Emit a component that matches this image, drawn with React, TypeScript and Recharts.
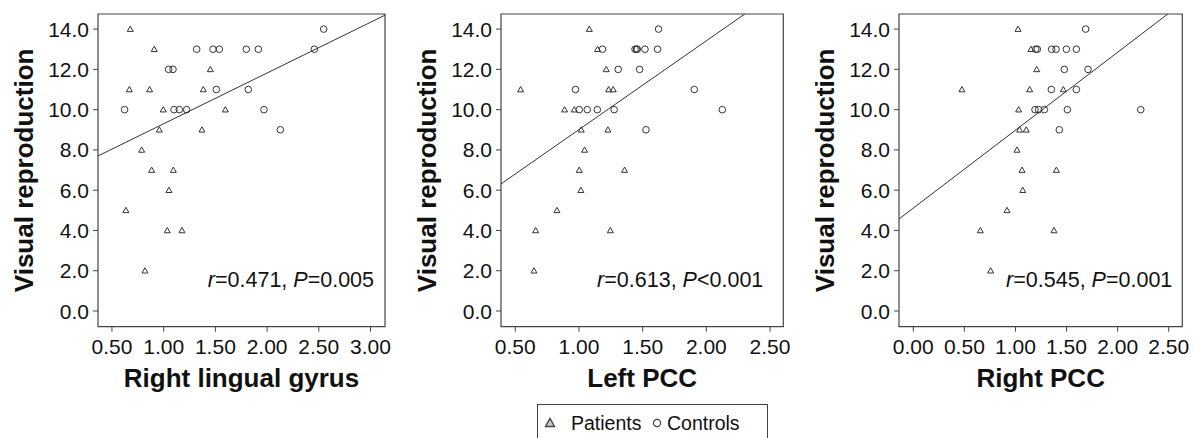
import React from 'react';
import { ScatterChart, Scatter, XAxis, YAxis, ReferenceArea, ReferenceLine } from 'recharts';

const FONT = '"Liberation Sans", Arial, sans-serif';

// Y axis (shared)
const yTicks = [0, 2, 4, 6, 8, 10, 12, 14];
const yDomain = [-0.78, 14.75];

// Panel 1: Right lingual gyrus
const rlgXTicks = [0.5, 1.0, 1.5, 2.0, 2.5, 3.0];
const rlgPatientsX = [0.677, 0.909, 0.668, 0.864, 0.996, 0.958, 0.787, 0.884, 1.093, 1.051, 1.451, 1.383, 1.37, 1.596, 0.635, 1.035, 1.177, 0.819];
const rlgPatientsY = [14, 13, 11, 11, 10, 9, 8, 7, 7, 6, 12, 11, 9, 10, 5, 4, 4, 2];
const rlgControlsX = [2.547, 1.319, 1.477, 1.538, 1.799, 1.915, 2.457, 1.048, 1.09, 1.509, 1.818, 0.622, 1.1, 1.151, 1.222, 1.97, 2.128];
const rlgControlsY = [14, 13, 13, 13, 13, 13, 13, 12, 12, 11, 11, 10, 10, 10, 10, 10, 9];

// Panel 2: Left PCC
const lpccXTicks = [0.5, 1.0, 1.5, 2.0, 2.5];
const lpccPatientsX = [1.081, 1.146, 1.214, 0.542, 1.233, 1.269, 0.887, 0.963, 1.018, 1.227, 1.044, 1.002, 1.358, 1.015, 0.66, 1.246, 0.827, 0.647];
const lpccPatientsY = [14, 13, 12, 11, 11, 11, 10, 10, 9, 9, 8, 7, 7, 6, 4, 4, 5, 2];
const lpccControlsX = [1.625, 1.185, 1.44, 1.452, 1.458, 1.518, 1.617, 1.308, 1.476, 0.973, 1.905, 1.002, 1.065, 1.144, 1.276, 2.125, 1.526];
const lpccControlsY = [14, 13, 13, 13, 13, 13, 13, 12, 12, 11, 11, 10, 10, 10, 10, 10, 9];

// Panel 3: Right PCC
const rpccXTicks = [0.0, 0.5, 1.0, 1.5, 2.0, 2.5];
const rpccPatientsX = [1.025, 1.152, 1.208, 0.476, 1.139, 1.469, 1.031, 1.041, 1.106, 1.015, 1.064, 1.4, 1.071, 0.917, 0.656, 1.377, 0.757];
const rpccPatientsY = [14, 13, 12, 11, 11, 11, 10, 9, 9, 8, 7, 7, 6, 5, 4, 4, 2];
const rpccControlsX = [1.687, 1.198, 1.214, 1.354, 1.397, 1.498, 1.596, 1.478, 1.71, 1.351, 1.596, 1.191, 1.227, 1.283, 1.508, 2.226, 1.429];
const rpccControlsY = [14, 13, 13, 13, 13, 13, 13, 12, 12, 11, 11, 10, 10, 10, 10, 10, 9];

// Fit lines: [intercept, slope]
const rlgFit = [6.78, 2.52];
const lpccFit = [4.6, 4.41];
const rpccFit = [5.11, 3.87];

const zip = (xs: number[], ys: number[]) => xs.map((x, i) => ({ x, y: ys[i] }));

const TICK_FONT = 21;

const XTick = (p: any) => {
  const { x, y, payload } = p;
  return (
    <text x={x} y={y} dy="0.72em" textAnchor="middle" fontFamily={FONT} fontSize={TICK_FONT} fill="#111">
      {Number(payload.value).toFixed(2)}
    </text>
  );
};

const YTick = (p: any) => {
  const { x, y, payload } = p;
  return (
    <text x={x} y={y} dy="0.36em" textAnchor="end" fontFamily={FONT} fontSize={TICK_FONT} fill="#111">
      {Number(payload.value).toFixed(1)}
    </text>
  );
};

const TriangleShape = (p: any) => {
  const { cx, cy } = p;
  if (cx == null || cy == null) return <g />;
  return (
    <path
      d={`M${cx},${cy - 3} L${cx + 3},${cy + 2.3} L${cx - 3},${cy + 2.3} Z`}
      fill="none"
      stroke="#333"
      strokeWidth={1}
    />
  );
};

const CircleShape = (p: any) => {
  const { cx, cy } = p;
  if (cx == null || cy == null) return <g />;
  return <circle cx={cx} cy={cy} r={3.3} fill="none" stroke="#333" strokeWidth={1} />;
};

type PanelProps = {
  left: number;
  width: number;
  rightMargin: number;
  xDomain: number[];
  xTicks: number[];
  xLabel: string;
  patients: { x: number; y: number }[];
  controls: { x: number; y: number }[];
  fit: number[];
  rVal: string;
  pRel: string;
  pVal: string;
  statInset: number;
};

function Panel(props: PanelProps) {
  const { left, width, rightMargin, xDomain, xTicks, xLabel, patients, controls, fit, rVal, pRel, pVal, statInset } = props;
  const [b, m] = fit;
  const seg = [
    { x: xDomain[0], y: b + m * xDomain[0] },
    { x: xDomain[1], y: b + m * xDomain[1] },
  ];
  const YLabel = (lp: any) => {
    const vb = lp.viewBox || { x: 0, y: 14, width: 98, height: 312.7 };
    const cx = vb.x + 24.5;
    const cy = vb.y + vb.height / 2;
    return (
      <text
        x={cx}
        y={cy}
        transform={`rotate(-90, ${cx}, ${cy})`}
        textAnchor="middle"
        dominantBaseline="central"
        fontFamily={FONT}
        fontWeight="bold"
        fontSize={26}
        fill="#111"
      >
        Visual reproduction
      </text>
    );
  };
  const XLabel = (lp: any) => {
    const vb = lp.viewBox || { x: 98, y: 326.7, width: 287, height: 70 };
    const cx = vb.x + vb.width / 2;
    const cy = vb.y + 51;
    return (
      <text
        x={cx}
        y={cy}
        textAnchor="middle"
        dominantBaseline="central"
        fontFamily={FONT}
        fontWeight="bold"
        fontSize={26}
        fill="#111"
      >
        {xLabel}
      </text>
    );
  };
  const Stat = (lp: any) => {
    const vb = lp.viewBox || { x: 98, y: 14, width: 287, height: 312.7 };
    return (
      <text
        x={vb.x + vb.width - statInset}
        y={vb.y + vb.height - 40}
        textAnchor="end"
        fontFamily={FONT}
        fontSize={21.5}
        fill="#111"
      >
        <tspan fontStyle="italic">r</tspan>
        <tspan>{`=${rVal}, `}</tspan>
        <tspan fontStyle="italic">P</tspan>
        <tspan>{`${pRel}${pVal}`}</tspan>
      </text>
    );
  };
  return (
    <div style={{ position: 'absolute', left, top: 0 }}>
      <ScatterChart width={width} height={400} margin={{ top: 14, right: rightMargin, bottom: 3.3, left: 0 }}>
        <XAxis
          type="number"
          dataKey="x"
          domain={xDomain}
          ticks={xTicks}
          allowDataOverflow
          interval={0}
          axisLine={false}
          tickLine={{ stroke: '#444' }}
          tickSize={5}
          tickMargin={7}
          tick={XTick}
          height={70}
          label={{ content: XLabel }}
        />
        <YAxis
          type="number"
          dataKey="y"
          domain={yDomain}
          ticks={yTicks}
          allowDataOverflow
          interval={0}
          axisLine={false}
          tickLine={{ stroke: '#444' }}
          tickSize={5}
          tickMargin={4}
          tick={YTick}
          width={98}
          label={{ content: YLabel }}
        />
        <ReferenceArea
          x1={xDomain[0]}
          x2={xDomain[1]}
          y1={yDomain[0]}
          y2={yDomain[1]}
          fill="none"
          fillOpacity={0}
          stroke="#444"
          strokeWidth={1.2}
          ifOverflow="visible"
          label={{ content: Stat }}
        />
        <ReferenceLine segment={seg} stroke="#333" strokeWidth={1} ifOverflow="hidden" />
        <Scatter name="Patients" data={patients} shape={TriangleShape} isAnimationActive={false} />
        <Scatter name="Controls" data={controls} shape={CircleShape} isAnimationActive={false} />
      </ScatterChart>
    </div>
  );
}

function Legend() {
  return (
    <div
      style={{
        position: 'absolute',
        left: 537,
        top: 404,
        width: 231,
        height: 44,
        border: '1px solid #444',
        boxSizing: 'border-box',
        fontFamily: FONT,
        fontSize: 19.5,
        color: '#111',
      }}
    >
      <svg width={14} height={14} style={{ position: 'absolute', left: 5, top: 11 }}>
        <path d="M7,2.5 L11.5,10.5 L2.5,10.5 Z" fill="#ccc" stroke="#444" strokeWidth={1.4} />
      </svg>
      <span style={{ position: 'absolute', left: 33, top: 7, lineHeight: '22px' }}>Patients</span>
      <svg width={14} height={14} style={{ position: 'absolute', left: 112, top: 11 }}>
        <circle cx={7} cy={7} r={3.6} fill="none" stroke="#444" strokeWidth={1.2} />
      </svg>
      <span style={{ position: 'absolute', left: 129, top: 7, lineHeight: '22px' }}>Controls</span>
    </div>
  );
}

export default function App() {
  return (
    <div
      style={{
        position: 'fixed',
        left: 0,
        top: 0,
        width: 1194,
        height: 438,
        overflow: 'hidden',
        background: '#fff',
      }}
    >
      <Panel
        left={0}
        width={398}
        rightMargin={13}
        xDomain={[0.365, 3.14]}
        xTicks={rlgXTicks}
        xLabel="Right lingual gyrus"
        patients={zip(rlgPatientsX, rlgPatientsY)}
        controls={zip(rlgControlsX, rlgControlsY)}
        fit={rlgFit}
        rVal="0.471"
        pRel="="
        pVal="0.005"
        statInset={11}
      />
      <Panel
        left={403}
        width={396}
        rightMargin={15.7}
        xDomain={[0.388, 2.604]}
        xTicks={lpccXTicks}
        xLabel="Left PCC"
        patients={zip(lpccPatientsX, lpccPatientsY)}
        controls={zip(lpccControlsX, lpccControlsY)}
        fit={lpccFit}
        rVal="0.613"
        pRel="<"
        pVal="0.001"
        statInset={20}
      />
      <Panel
        left={801}
        width={393}
        rightMargin={11.7}
        xDomain={[-0.14, 2.633]}
        xTicks={rpccXTicks}
        xLabel="Right PCC"
        patients={zip(rpccPatientsX, rpccPatientsY)}
        controls={zip(rpccControlsX, rpccControlsY)}
        fit={rpccFit}
        rVal="0.545"
        pRel="="
        pVal="0.001"
        statInset={10}
      />
      <Legend />
    </div>
  );
}
